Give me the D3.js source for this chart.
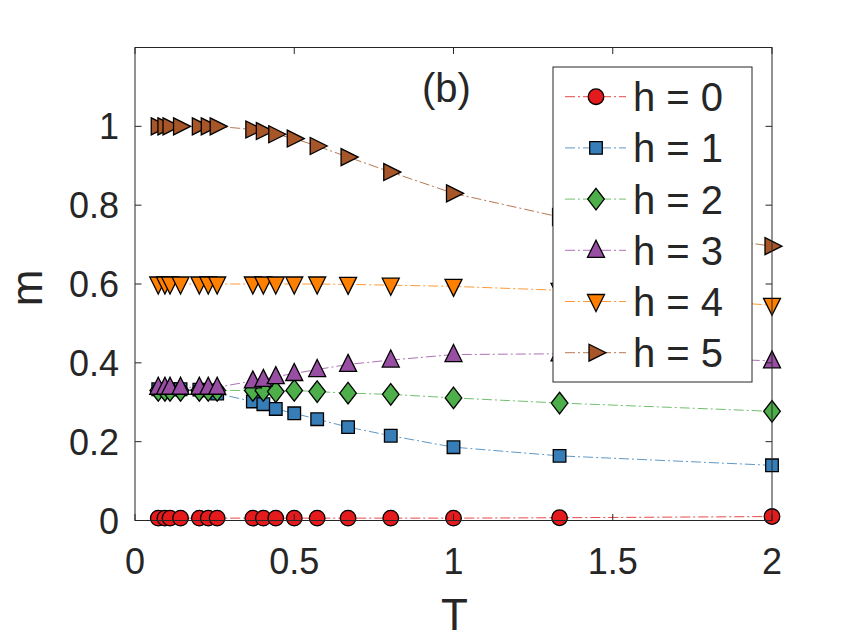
<!DOCTYPE html>
<html>
<head>
<meta charset="utf-8">
<script src="https://cdn.jsdelivr.net/npm/d3@7"></script>
<style>
  body { margin: 0; background: #fff; }
  text { font-family: "Liberation Sans", Arial, Helvetica, sans-serif; fill: #262626; }
</style>
</head>
<body>
<svg id="chart" width="853" height="640"></svg>
<script>
// temperatures (same for every field h)
const temps = [0.073, 0.094, 0.11, 0.143, 0.202, 0.23, 0.258, 0.37, 0.403, 0.442, 0.5, 0.572, 0.669, 0.803, 1.0, 1.333, 2.0];

const m0 = [0.006, 0.006, 0.006, 0.006, 0.006, 0.006, 0.006, 0.006, 0.006, 0.006, 0.006, 0.006, 0.006, 0.006, 0.006, 0.007, 0.01];
const m1 = [0.333, 0.333, 0.333, 0.333, 0.332, 0.33, 0.322, 0.302, 0.295, 0.283, 0.272, 0.257, 0.237, 0.215, 0.186, 0.164, 0.14];
const m2 = [0.33, 0.33, 0.33, 0.33, 0.33, 0.33, 0.33, 0.33, 0.33, 0.327, 0.33, 0.327, 0.323, 0.32, 0.311, 0.298, 0.277];
const m3 = [0.338, 0.338, 0.338, 0.338, 0.338, 0.338, 0.338, 0.354, 0.358, 0.365, 0.373, 0.383, 0.396, 0.407, 0.421, 0.423, 0.405];
const m4 = [0.6, 0.6, 0.6, 0.6, 0.6, 0.6, 0.6, 0.6, 0.6, 0.6, 0.6, 0.6, 0.599, 0.597, 0.594, 0.584, 0.546];
const m5 = [1.0, 1.0, 1.0, 1.0, 1.0, 1.0, 1.0, 0.992, 0.988, 0.98, 0.969, 0.95, 0.922, 0.884, 0.83, 0.77, 0.696];

const labels = ["h = 0", "h = 1", "h = 2", "h = 3", "h = 4", "h = 5"];
const colors = ["#E41A1C", "#377EB8", "#4DAF4A", "#984EA3", "#FF7F00", "#A65628"];
const shapes = ["circle", "square", "diamond", "up", "down", "right"];
const xTicks = [0, 0.5, 1, 1.5, 2];
const yTicks = [0, 0.2, 0.4, 0.6, 0.8, 1];

const series = [m0, m1, m2, m3, m4, m5].map((vals, i) => ({
  label: labels[i], color: colors[i], shape: shapes[i],
  points: temps.map((t, j) => ({ t, m: vals[j] }))
}));

const svg = d3.select("#chart");
svg.append("rect").attr("width", 853).attr("height", 640).attr("fill", "#fff");

const margin = { top: 47.5, right: 81, bottom: 119.5, left: 135 },
      width = 853 - margin.left - margin.right,
      height = 640 - margin.top - margin.bottom;

const g = svg.append("g")
  .attr("transform", `translate(${margin.left},${margin.top})`);

const x = d3.scaleLinear().domain([0, 2]).range([0, width]);
const y = d3.scaleLinear().domain([0, 1.2]).range([height, 0]);

// marker outlines, centred on the data point
function markerPath(shape) {
  switch (shape) {
    case "circle": return "M7.8,0A7.8,7.8 0 1,1 -7.8,0A7.8,7.8 0 1,1 7.8,0Z";
    case "square": return "M-6.3,-6.3H6.3V6.3H-6.3Z";
    case "diamond": return "M0,-10.8L8.3,0L0,10.8L-8.3,0Z";
    case "up": return "M0,-10L8.5,7L-8.5,7Z";
    case "down": return "M0,10L8.5,-7L-8.5,-7Z";
    case "right": return "M10,0L-7,8.5L-7,-8.5Z";
  }
}

const line = d3.line().x(d => x(d.t)).y(d => y(d.m));
const dash = "10,3,2,3";

// series: line then markers, in order so later ones sit on top
series.forEach(s => {
  g.append("path")
    .datum(s.points)
    .attr("d", line)
    .attr("fill", "none")
    .attr("stroke", s.color)
    .attr("stroke-width", 1)
    .attr("stroke-opacity", 0.8)
    .attr("stroke-dasharray", dash);

  g.append("g").selectAll("path")
    .data(s.points)
    .enter().append("path")
    .attr("transform", d => `translate(${x(d.t)},${y(d.m)})`)
    .attr("d", markerPath(s.shape))
    .attr("fill", s.color)
    .attr("stroke", "#000")
    .attr("stroke-width", 1.3);
});

// axes box with inward ticks on all four sides
const axisColor = "#262626";
g.append("rect")
  .attr("width", width).attr("height", height)
  .attr("fill", "none").attr("stroke", axisColor).attr("stroke-width", 1);

const tickLen = 6.5;
xTicks.forEach(t => {
  g.append("line").attr("x1", x(t)).attr("x2", x(t)).attr("y1", height).attr("y2", height - tickLen)
    .attr("stroke", axisColor);
  g.append("line").attr("x1", x(t)).attr("x2", x(t)).attr("y1", 0).attr("y2", tickLen)
    .attr("stroke", axisColor);
  g.append("text")
    .attr("x", x(t)).attr("y", height + 53)
    .attr("text-anchor", "middle")
    .attr("font-size", "36px")
    .text(d3.format("~g")(t));
});
yTicks.forEach(t => {
  g.append("line").attr("x1", 0).attr("x2", tickLen).attr("y1", y(t)).attr("y2", y(t))
    .attr("stroke", axisColor);
  g.append("line").attr("x1", width).attr("x2", width - tickLen).attr("y1", y(t)).attr("y2", y(t))
    .attr("stroke", axisColor);
  g.append("text")
    .attr("x", -16).attr("y", y(t) + 13)
    .attr("text-anchor", "end")
    .attr("font-size", "36px")
    .text(d3.format("~g")(t));
});

// axis labels
g.append("text")
  .attr("x", width / 2 + 1)
  .attr("y", height + 109)
  .attr("text-anchor", "middle")
  .attr("font-size", "44px")
  .text("T");

g.append("text")
  .attr("transform", "rotate(-90)")
  .attr("x", -height / 2 - 4)
  .attr("y", -margin.left + 42)
  .attr("text-anchor", "middle")
  .attr("font-size", "44px")
  .text("m");

// panel tag
g.append("text")
  .attr("x", 446.5 - margin.left)
  .attr("y", 101.5 - margin.top)
  .attr("text-anchor", "middle")
  .attr("font-size", "40px")
  .text("(b)");

// legend
const legend = svg.append("g").attr("transform", "translate(553,67)");
legend.append("rect")
  .attr("width", 199).attr("height", 315)
  .attr("fill", "#fff").attr("stroke", axisColor).attr("stroke-width", 1);

const item = legend.selectAll("g.item")
  .data(series)
  .enter().append("g")
  .attr("class", "item")
  .attr("transform", (d, i) => `translate(0,${29.7 + i * 51.2})`);

item.append("line")
  .attr("x1", 12).attr("x2", 73).attr("y1", 0).attr("y2", 0)
  .attr("stroke", d => d.color)
  .attr("stroke-width", 1)
  .attr("stroke-opacity", 0.8)
  .attr("stroke-dasharray", dash);

item.append("path")
  .attr("transform", "translate(43,0)")
  .attr("d", d => markerPath(d.shape))
  .attr("fill", d => d.color)
  .attr("stroke", "#000")
  .attr("stroke-width", 1.3);

item.append("text")
  .attr("x", 80).attr("y", 14.5)
  .attr("font-size", "40px")
  .text(d => d.label);
</script>
</body>
</html>
